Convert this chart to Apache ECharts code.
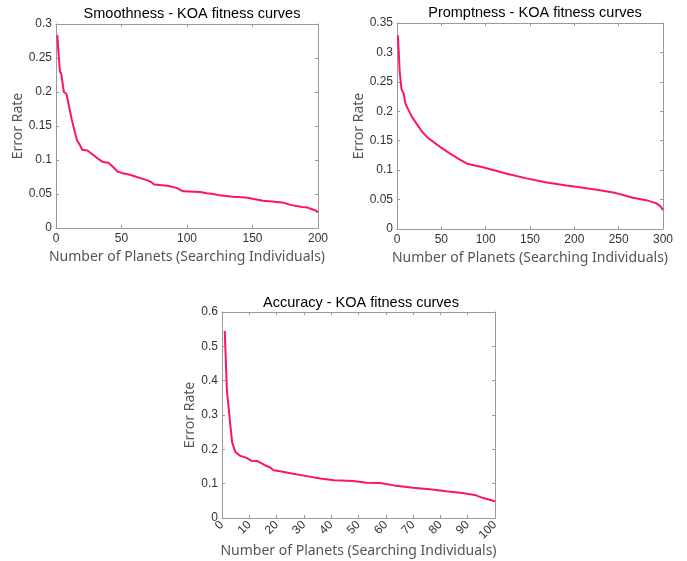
<!DOCTYPE html>
<html>
<head>
  <meta charset="utf-8">
  <script src="https://cdn.jsdelivr.net/npm/echarts@6/dist/echarts.min.js"></script>
  <style>
    html, body { margin: 0; padding: 0; background: #fff; }
    #main { width: 687px; height: 561px; }
  </style>
</head>
<body>
<div id="main"></div>
<script>
  // values
  const smoothX = [1, 2, 3, 4, 6, 8, 9, 12, 13, 14, 16, 18, 20, 24, 28, 32, 36, 40, 44, 47, 50, 55, 60, 65, 70, 73, 75, 85, 92, 97, 110, 115, 120, 125, 135, 145, 150, 158, 165, 174, 179, 188, 192, 195, 198, 200];
  const smoothY = [0.284, 0.255, 0.230, 0.227, 0.200, 0.197, 0.195, 0.160, 0.152, 0.150, 0.129, 0.123, 0.115, 0.114, 0.108, 0.102, 0.097, 0.096, 0.089, 0.083, 0.081, 0.079, 0.076, 0.073, 0.070, 0.067, 0.064, 0.062, 0.059, 0.054, 0.053, 0.051, 0.050, 0.048, 0.046, 0.045, 0.043, 0.040, 0.039, 0.037, 0.034, 0.031, 0.030, 0.028, 0.026, 0.023];

  const promptX = [1, 2, 3, 5, 7.5, 9.5, 13, 17, 22, 28, 34, 41, 49, 60, 71, 79, 97, 124, 146, 169, 191, 206, 229, 247, 266, 281, 292, 297, 300];
  const promptY = [0.329, 0.300, 0.268, 0.238, 0.230, 0.213, 0.202, 0.190, 0.179, 0.166, 0.156, 0.148, 0.139, 0.128, 0.118, 0.111, 0.105, 0.094, 0.086, 0.079, 0.074, 0.071, 0.066, 0.061, 0.053, 0.049, 0.044, 0.039, 0.032];

  const accX = [1, 1.8, 3, 3.7, 4.9, 6.7, 9.1, 10.6, 13, 15.9, 17.7, 18.9, 21.3, 26, 31, 36, 41, 48, 53, 58, 63, 70, 77, 82, 88, 93, 95.7, 98, 100];
  const accY = [0.545, 0.372, 0.275, 0.221, 0.192, 0.181, 0.175, 0.167, 0.166, 0.153, 0.147, 0.139, 0.136, 0.129, 0.122, 0.115, 0.110, 0.108, 0.103, 0.102, 0.095, 0.088, 0.083, 0.078, 0.073, 0.066, 0.058, 0.053, 0.049];

  const titles = ['Smoothness - KOA fitness curves', 'Promptness - KOA fitness curves', 'Accuracy - KOA fitness curves'];
  const xName = 'Number of Planets (Searching Individuals)';
  const yName = 'Error Rate';

  const lineColor = '#ff1464';
  const frameColor = '#999999';
  const labelColor = '#333333';

  const grids = [
    { left: 56, top: 24, width: 262, height: 204 },
    { left: 397, top: 23, width: 266, height: 206 },
    { left: 222, top: 312, width: 273, height: 206 }
  ];
  const xCfg = [
    { max: 200, interval: 50, rotate: 0, gap: 22 },
    { max: 300, interval: 50, rotate: 0, gap: 22 },
    { max: 100, interval: 10, rotate: 45, gap: 24 }
  ];
  const yCfg = [
    { max: 0.3, interval: 0.05, gap: 29 },
    { max: 0.35, interval: 0.05, gap: 27 },
    { max: 0.6, interval: 0.1, gap: 22 }
  ];
  const titlePos = [[187, 1], [530, 0], [356, 290]];

  const chart = echarts.init(document.getElementById('main'), null, { renderer: 'canvas' });

  const xAxes = [], yAxes = [], series = [], titleList = [];
  const datasets = [[smoothX, smoothY], [promptX, promptY], [accX, accY]];

  grids.forEach(function (g, i) {
    titleList.push({
      text: titles[i], left: titlePos[i][0], top: titlePos[i][1], textAlign: 'center',
      textStyle: { fontFamily: 'Liberation Sans', fontSize: 14.5, fontWeight: 'normal', color: '#000' }
    });
    // bottom axis with labels
    xAxes.push({
      type: 'value', gridIndex: i, min: 0, max: xCfg[i].max, interval: xCfg[i].interval,
      name: xName, nameLocation: 'middle', nameGap: xCfg[i].gap,
      nameTextStyle: { fontFamily: 'Noto Sans', fontSize: 14, color: '#555' },
      axisLine: { onZero: false, lineStyle: { color: frameColor } },
      axisTick: { inside: true, length: 3, lineStyle: { color: frameColor } },
      axisLabel: { fontFamily: 'Liberation Sans', fontSize: 12, color: labelColor, margin: 5, rotate: xCfg[i].rotate },
      splitLine: { show: false }
    });
    // top frame
    xAxes.push({
      type: 'value', gridIndex: i, position: 'top', min: 0, max: xCfg[i].max, interval: xCfg[i].interval,
      axisLine: { onZero: false, lineStyle: { color: frameColor } },
      axisTick: { inside: true, length: 3, lineStyle: { color: frameColor } },
      axisLabel: { show: false }, splitLine: { show: false }
    });
    yAxes.push({
      type: 'value', gridIndex: i, min: 0, max: yCfg[i].max, interval: yCfg[i].interval,
      name: yName, nameLocation: 'middle', nameGap: yCfg[i].gap,
      nameTextStyle: { fontFamily: 'Noto Sans', fontSize: 14, color: '#555' },
      axisLine: { show: true, onZero: false, lineStyle: { color: frameColor } },
      axisTick: { show: true, inside: true, length: 3, lineStyle: { color: frameColor } },
      axisLabel: { fontFamily: 'Liberation Sans', fontSize: 12, color: labelColor, margin: 4 },
      splitLine: { show: false }
    });
    // right frame
    yAxes.push({
      type: 'value', gridIndex: i, position: 'right', min: 0, max: yCfg[i].max, interval: yCfg[i].interval,
      axisLine: { show: true, onZero: false, lineStyle: { color: frameColor } },
      axisTick: { show: true, inside: true, length: 3, lineStyle: { color: frameColor } },
      axisLabel: { show: false }, splitLine: { show: false }
    });
    const xs = datasets[i][0], ys = datasets[i][1];
    series.push({
      type: 'line', xAxisIndex: i * 2, yAxisIndex: i * 2,
      data: xs.map(function (x, k) { return [x, ys[k]]; }),
      showSymbol: false, smooth: false, animation: false,
      lineStyle: { color: lineColor, width: 2 }
    });
  });

  chart.setOption({
    backgroundColor: '#fff',
    animation: false,
    title: titleList,
    grid: grids,
    xAxis: xAxes,
    yAxis: yAxes,
    series: series
  });
</script>
</body>
</html>
